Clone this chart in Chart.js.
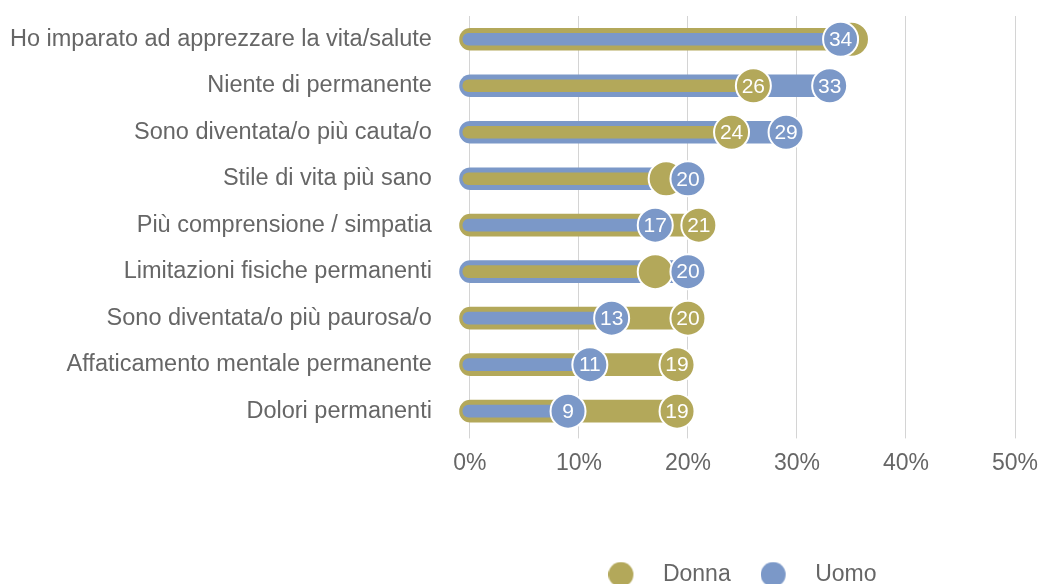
<!DOCTYPE html>
<html>
<head>
<meta charset="utf-8">
<script src="https://cdn.jsdelivr.net/npm/chart.js@4/dist/chart.umd.min.js"></script>
<style>
  html, body { margin: 0; padding: 0; background: #fff; }
  #wrap { width: 1042px; height: 584px; }
</style>
</head>
<body>
<div id="wrap"><canvas id="chart"></canvas></div>
<script>
// dati
const categories = [
    'Ho imparato ad apprezzare la vita/salute',
    'Niente di permanente',
    'Sono diventata/o più cauta/o',
    'Stile di vita più sano',
    'Più comprensione / simpatia',
    'Limitazioni fisiche permanenti',
    'Sono diventata/o più paurosa/o',
    'Affaticamento mentale permanente',
    'Dolori permanenti'
];
const donna = [35, 26, 24, 18, 21, 17, 20, 19, 19];
const uomo = [34, 33, 29, 20, 17, 20, 13, 11, 9];
const xTicks = [0, 10, 20, 30, 40, 50];

const OLIVE = '#b3a85a';
const BLUE = '#7b98c8';
const TEXT = '#666666';
const FONT = "'Liberation Sans', Arial, Helvetica, sans-serif";
const R = 17.5;

// barra lunga dietro, barra corta davanti
const outer = donna.map((d, i) => Math.max(d, uomo[i]));
const inner = donna.map((d, i) => Math.min(d, uomo[i]));
const outerColors = donna.map((d, i) => d >= uomo[i] ? OLIVE : BLUE);
const innerColors = donna.map((d, i) => d >= uomo[i] ? BLUE : OLIVE);

// icona legenda: cerchio con spazio a destra
function legendDot(color) {
    const c = document.createElement('canvas');
    c.width = 43;
    c.height = 26;
    const g = c.getContext('2d');
    g.fillStyle = color;
    g.beginPath();
    g.arc(12.5, 13, 12.5, 0, Math.PI * 2);
    g.fill();
    return c;
}

// numeri dentro i cerchi
const circleLabels = {
    id: 'circleLabels',
    afterDatasetsDraw(chart) {
        const ctx = chart.ctx;
        const metaD = chart.getDatasetMeta(2);
        const metaU = chart.getDatasetMeta(3);
        ctx.save();
        ctx.fillStyle = '#fff';
        ctx.font = '21px ' + FONT;
        ctx.textAlign = 'center';
        ctx.textBaseline = 'middle';
        metaU.data.forEach((p, i) => {
            const pd = metaD.data[i];
            if (Math.abs(pd.x - p.x) > 2 * R + 1) {
                ctx.fillText(String(donna[i]), pd.x, pd.y + 1);
            }
            ctx.fillText(String(uomo[i]), p.x, p.y + 1);
        });
        ctx.restore();
    }
};

new Chart(document.getElementById('chart'), {
    data: {
        labels: categories,
        datasets: [
            {
                type: 'bar',
                data: outer,
                backgroundColor: outerColors,
                base: -0.95,
                barThickness: 22,
                borderRadius: 11,
                borderSkipped: false,
                grouped: false,
                clip: false,
                order: 4
            },
            {
                type: 'bar',
                data: inner,
                backgroundColor: innerColors,
                base: -0.65,
                barThickness: 12,
                borderRadius: 6,
                borderSkipped: false,
                grouped: false,
                clip: false,
                order: 3
            },
            {
                type: 'line',
                label: 'Donna',
                data: donna,
                showLine: false,
                pointRadius: R,
                pointBackgroundColor: OLIVE,
                pointBorderColor: '#fff',
                pointBorderWidth: 2,
                clip: false,
                order: 2
            },
            {
                type: 'line',
                label: 'Uomo',
                data: uomo,
                showLine: false,
                pointRadius: R,
                pointBackgroundColor: BLUE,
                pointBorderColor: '#fff',
                pointBorderWidth: 2,
                clip: false,
                order: 1
            }
        ]
    },
    options: {
        indexAxis: 'y',
        responsive: true,
        maintainAspectRatio: false,
        animation: false,
        events: [],
        layout: { autoPadding: false, padding: { left: -28, right: 27, top: 16, bottom: -12 } },
        scales: {
            x: {
                min: 0,
                max: 50,
                afterBuildTicks: axis => { axis.ticks = xTicks.map(v => ({ value: v })); },
                ticks: {
                    callback: v => v + '%',
                    color: TEXT,
                    font: { family: FONT, size: 23 },
                    padding: 11
                },
                grid: { color: '#d4d4d4', tickLength: 4 },
                border: { display: false },
                afterFit: axis => {
                    axis.height += 45;
                    axis.paddingLeft = 0;
                    axis.paddingRight = 0;
                }
            },
            y: {
                ticks: {
                    color: TEXT,
                    font: { family: FONT, size: 23.5 },
                    padding: 38
                },
                grid: { display: false, drawTicks: false },
                border: { display: false },
                afterFit: axis => {
                    axis.paddingTop = 0;
                    axis.paddingBottom = 0;
                }
            }
        },
        plugins: {
            tooltip: { enabled: false },
            legend: {
                position: 'bottom',
                fullSize: false,
                labels: {
                    usePointStyle: true,
                    pointStyleWidth: 43,
                    boxHeight: 23,
                    padding: 30,
                    color: TEXT,
                    font: { family: FONT, size: 23 },
                    generateLabels: () => [
                        { text: 'Donna', fillStyle: OLIVE, strokeStyle: OLIVE, lineWidth: 0, pointStyle: legendDot(OLIVE), hidden: false, datasetIndex: 2, fontColor: TEXT },
                        { text: 'Uomo', fillStyle: BLUE, strokeStyle: BLUE, lineWidth: 0, pointStyle: legendDot(BLUE), hidden: false, datasetIndex: 3, fontColor: TEXT }
                    ]
                }
            }
        }
    },
    plugins: [circleLabels]
});
</script>
</body>
</html>
